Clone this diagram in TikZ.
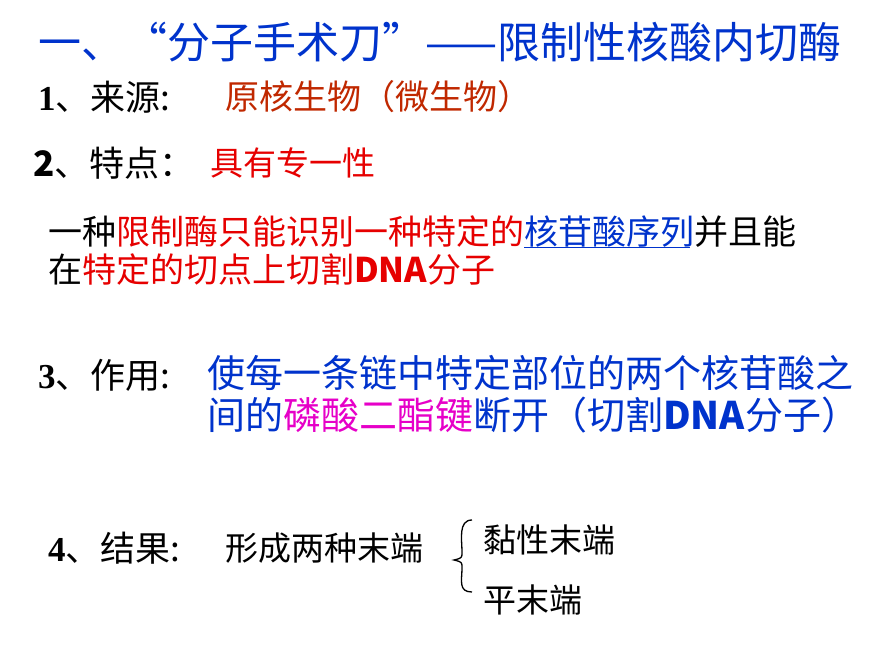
\documentclass[tikz,border=0pt]{standalone}
\usepackage{fontspec}
\newfontfamily\cjk{Noto Sans CJK SC}
\newfontfamily\num{Liberation Serif}
\definecolor{tblue}{RGB}{0,51,204}
\definecolor{tred}{RGB}{230,0,0}
\definecolor{tbrown}{RGB}{192,40,0}
\definecolor{tmag}{RGB}{230,0,200}
\tikzset{t/.style={anchor=west,inner sep=0pt,font=\cjk\fontsize{33}{35}\selectfont},
lab/.style={anchor=west,inner sep=0pt,font=\cjk\fontsize{35}{37}\selectfont}}
\begin{document}
\begin{tikzpicture}[x=1pt,y=-1pt]
\useasboundingbox (0,0) rectangle (870,653);
\node[t,text=tblue,font=\cjk\fontsize{43}{45}\selectfont] (title) at (38,42) {一、“分子手术刀”——限制性核酸内切酶};
\node[lab] (l1) at (38,97) {{\num\bfseries 1}、来源:};
\node[t,text=tbrown,font=\cjk\fontsize{34}{36}\selectfont] (s1) at (225,97) {原核生物（微生物）};
\node[lab] (l2) at (33,163) {\textbf{2}、特点：};
\node[t,text=tred] (s2) at (210,163) {具有专一性};
\node[t,font=\cjk\fontsize{34}{36}\selectfont] (d1) at (48,232) {一种\textcolor{tred}{限制酶只能识别一种特定的}\textcolor{tblue}{核苷酸序列}并且能};
\draw[tblue,line width=1pt] (524,247) -- (690,247);
\node[t,font=\cjk\fontsize{34}{36}\selectfont] (d2) at (48,270) {在\textcolor{tred}{特定的切点上切割\textbf{DNA}分子}};
\node[lab] (l3) at (38,375) {{\num\bfseries 3}、作用:};
\node[t,text=tblue,font=\cjk\fontsize{38}{40}\selectfont] (s3a) at (207,373) {使每一条链中特定部位的两个核苷酸之};
\node[t,text=tblue,font=\cjk\fontsize{38}{40}\selectfont] (s3b) at (207,415) {间的\textcolor{tmag}{磷酸二酯键}断开（切割\textbf{DNA}分子）};
\node[lab] (l4) at (48,548) {{\num\bfseries 4}、结果:};
\node[t] (s4) at (225,548) {形成两种末端};
\draw[line width=1.3pt] (472,520) .. controls (458,520) and (462,540) .. (462,552) .. controls (462,558) .. (454,560) .. controls (462,562) .. (462,568) .. controls (462,580) and (458,592) .. (472,592);
\node[t] (e1) at (483,540) {黏性末端};
\node[t] (e2) at (483,600) {平末端};
\end{tikzpicture}
\end{document}
